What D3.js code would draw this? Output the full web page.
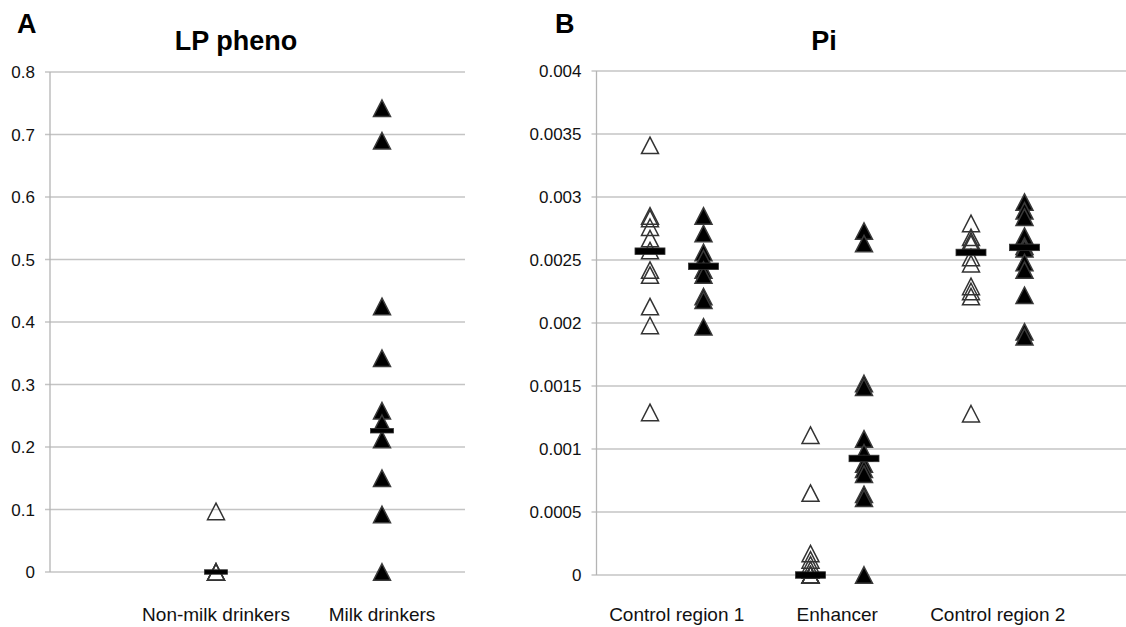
<!DOCTYPE html>
<html>
<head>
<meta charset="utf-8">
<script src="https://cdn.jsdelivr.net/npm/d3@7"></script>
<style>
  body { margin: 0; background: white; }
  svg { display: block; font-family: "Liberation Sans", Arial, sans-serif; }
</style>
</head>
<body>
<script>
// panel A - LP pheno
var lpGroups = ["Non-milk drinkers", "Milk drinkers"]
var lpNonMilk = [0.097, 0, 0, 0]
var lpMilk = [0.742, 0.690, 0.425, 0.342, 0.258, 0.238, 0.212, 0.150, 0.092, 0]
var lpMedians = [0, 0.226]
var lpTicks = [0, 0.1, 0.2, 0.3, 0.4, 0.5, 0.6, 0.7, 0.8]

// panel B - Pi
var piRegions = ["Control region 1", "Enhancer", "Control region 2"]
var cr1Open = [0.00341, 0.00285, 0.00283, 0.00276, 0.00267, 0.002575, 0.00242, 0.00238, 0.00213, 0.00198, 0.00129]
var cr1Filled = [0.00285, 0.00271, 0.00256, 0.00251, 0.00242, 0.00238, 0.00221, 0.00218, 0.00197]
var enhOpen = [0.00111, 0.00065, 0.00017, 0.00012, 0.00008, 0.00004, 0, 0, 0, 0, 0]
var enhFilled = [0.00273, 0.00263, 0.00152, 0.00149, 0.00108, 0.00097, 0.00088, 0.00084, 0.00080, 0.00064, 0.00061, 0]
var cr2Open = [0.00279, 0.00268, 0.00265, 0.00263, 0.00252, 0.00247, 0.00229, 0.00225, 0.00221, 0.00128]
var cr2Filled = [0.00296, 0.00289, 0.00284, 0.00269, 0.00261, 0.00259, 0.00248, 0.00242, 0.00222, 0.00193, 0.00189]
var piOpenMedians = [0.00257, 0, 0.00256]
var piFilledMedians = [0.00245, 0.000925, 0.0026]
var piTicks = [0, 0.0005, 0.001, 0.0015, 0.002, 0.0025, 0.003, 0.0035, 0.004]

var width = 1126
var height = 627
var gridColor = "#c4c4c4"
var axisColor = "#b4b4b4"

var svg = d3.select("body")
    .append("svg")
    .attr("width", width)
    .attr("height", height)

// triangle centred on its bounding box, like the spreadsheet marker
function triangle(w, h) {
    return "M0," + (-h / 2) + " L" + (w / 2) + "," + (h / 2) + " L" + (-w / 2) + "," + (h / 2) + " Z"
}

function drawPanel(opts) {
    var g = svg.append("g")
    var x = opts.x
    var y = opts.y
    var x0 = x.range()[0]

    g.selectAll(".grid")
        .data(opts.ticks)
        .enter()
        .append("line")
        .attr("x1", x0 - 5)
        .attr("x2", Math.min(x.range()[1], width))
        .attr("y1", (d) => y(d))
        .attr("y2", (d) => y(d))
        .attr("stroke", gridColor)
        .attr("stroke-width", 1.3)

    g.append("line")
        .attr("x1", x0).attr("x2", x0)
        .attr("y1", y.range()[0]).attr("y2", y.range()[1])
        .attr("stroke", axisColor)
        .attr("stroke-width", 1.3)

    g.selectAll(".ytick")
        .data(opts.ticks)
        .enter()
        .append("text")
        .attr("x", x0 - 15)
        .attr("y", (d) => y(d))
        .attr("dy", "0.36em")
        .attr("text-anchor", "end")
        .attr("font-size", 17)
        .attr("fill", "#111")
        .text((d) => d === 0 ? "0" : String(+d.toPrecision(4)))

    g.selectAll(".xlab")
        .data(opts.labels)
        .enter()
        .append("text")
        .attr("x", (d, i) => x(opts.labelPos[i]))
        .attr("y", 621)
        .attr("text-anchor", "middle")
        .attr("font-size", 19)
        .attr("fill", "#111")
        .text((d) => d)

    g.append("text")
        .attr("x", opts.titleX)
        .attr("y", 50)
        .attr("text-anchor", "middle")
        .attr("font-size", 27)
        .attr("font-weight", "bold")
        .text(opts.title)

    g.append("text")
        .attr("x", opts.letterX)
        .attr("y", 33)
        .attr("font-size", 27)
        .attr("font-weight", "bold")
        .text(opts.letter)

    // points: one series per position
    opts.series.forEach(function (s) {
        g.selectAll(null)
            .data(s.values)
            .enter()
            .append("path")
            .attr("d", triangle(17, 16.5))
            .attr("transform", (d) => "translate(" + x(s.pos) + "," + y(d) + ")")
            .attr("fill", s.filled ? "#000" : "none")
            .attr("stroke", s.filled ? "#3a3a3a" : "#333")
            .attr("stroke-width", 1.5)
    })

    // median bars on top
    g.selectAll(".bar")
        .data(opts.bars)
        .enter()
        .append("rect")
        .attr("x", (d) => x(d.pos) - opts.barW / 2)
        .attr("y", (d) => y(d.value) - opts.barH / 2)
        .attr("width", opts.barW)
        .attr("height", opts.barH)
        .attr("fill", "#000")
        .attr("stroke", "#333")
        .attr("stroke-width", 0.8)
}

var xA = d3.scaleLinear().domain([0, 2.5]).range([50, 465])
var yA = d3.scaleLinear().domain([0, 0.8]).range([572, 72])

drawPanel({
    x: xA, y: yA, ticks: lpTicks,
    labels: lpGroups, labelPos: [1, 2],
    title: "LP pheno", titleX: 236, letter: "A", letterX: 17,
    series: [
        { pos: 1, values: lpNonMilk, filled: false },
        { pos: 2, values: lpMilk, filled: true }
    ],
    bars: [{ pos: 1, value: lpMedians[0] }, { pos: 2, value: lpMedians[1] }],
    barW: 23, barH: 4.5
})

var xB = d3.scaleLinear().domain([0, 10]).range([596.5, 1131.5])
var yB = d3.scaleLinear().domain([0, 0.004]).range([575, 71])

drawPanel({
    x: xB, y: yB, ticks: piTicks,
    labels: piRegions, labelPos: [1.5, 4.5, 7.5],
    title: "Pi", titleX: 824, letter: "B", letterX: 555,
    series: [
        { pos: 1, values: cr1Open, filled: false },
        { pos: 2, values: cr1Filled, filled: true },
        { pos: 4, values: enhOpen, filled: false },
        { pos: 5, values: enhFilled, filled: true },
        { pos: 7, values: cr2Open, filled: false },
        { pos: 8, values: cr2Filled, filled: true }
    ],
    bars: [
        { pos: 1, value: piOpenMedians[0] }, { pos: 2, value: piFilledMedians[0] },
        { pos: 4, value: piOpenMedians[1] }, { pos: 5, value: piFilledMedians[1] },
        { pos: 7, value: piOpenMedians[2] }, { pos: 8, value: piFilledMedians[2] }
    ],
    barW: 30, barH: 6.5
})
</script>
</body>
</html>
